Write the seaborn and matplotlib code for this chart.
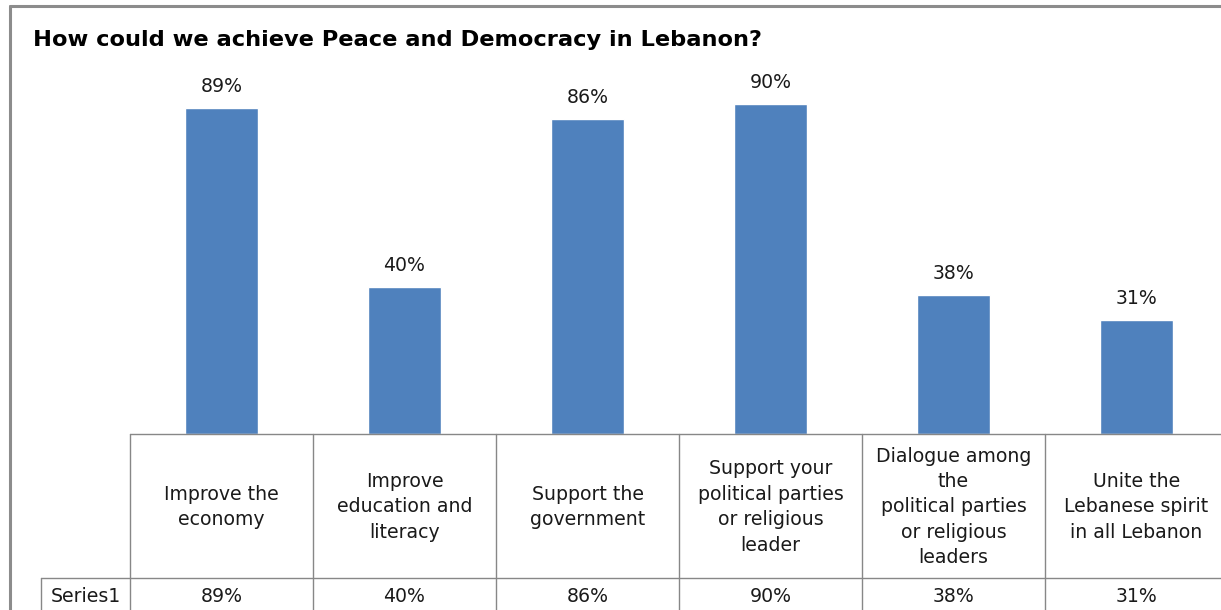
import matplotlib
matplotlib.use("Agg")
import matplotlib.pyplot as plt
from matplotlib.lines import Line2D
import seaborn as sns
import pandas as pd

categories = [
    "Improve the\neconomy",
    "Improve\neducation and\nliteracy",
    "Support the\ngovernment",
    "Support your\npolitical parties\nor religious\nleader",
    "Dialogue among\nthe\npolitical parties\nor religious\nleaders",
    "Unite the\nLebanese spirit\nin all Lebanon",
]
values = [89, 40, 86, 90, 38, 31]
series_name = "Series1"
title = "How could we achieve Peace and Democracy in Lebanon?"

W, H = 1221, 610
BAR = "#4F81BD"
GRID = "#878787"
FRAME = "#8C8C8C"
TXT = "#1a1a1a"
FS = 13.6

sns.set_theme(style="white")
plt.rcParams["font.family"] = ["DejaVu Sans"]

fig = plt.figure(figsize=(W / 100, H / 100), dpi=100)
fig.patch.set_facecolor("white")


def fx(px):
    return px / W


def fy(py):
    return 1 - py / H


# plot area: left edge of table at x=130, baseline at y=434, 100% at y=67
col_w = 183
ax_left, ax_base, ax_top = 130, 434, 67.3
ax = fig.add_axes([fx(ax_left), fy(ax_base), (6 * col_w) / W, (ax_base - ax_top) / H])

df = pd.DataFrame({"cat": categories, "val": values})
sns.barplot(data=df, x="cat", y="val", color=BAR, width=0.4, saturation=1, ax=ax)
ax.set_xlim(-0.5, 5.5)
ax.set_ylim(0, 100)
ax.set_xticks([])
ax.set_yticks([])
ax.set_xlabel("")
ax.set_ylabel("")
for s in ax.spines.values():
    s.set_visible(False)

for i, v in enumerate(values):
    ax.annotate(f"{v}%", (i, v), xytext=(0, 11.5), textcoords="offset points",
                ha="center", va="baseline", fontsize=FS, color=TXT)

# outer chart frame
fig.add_artist(Line2D([fx(10), fx(10)], [fy(6), fy(H + 5)], color=FRAME, lw=2.2))
fig.add_artist(Line2D([fx(10), fx(W + 5)], [fy(6), fy(6)], color=FRAME, lw=2.2))

# data table below the plot
row1_top, row2_top = 434, 578
fig.add_artist(Line2D([fx(ax_left), fx(W + 5)], [fy(row1_top), fy(row1_top)], color=GRID, lw=1))
fig.add_artist(Line2D([fx(41), fx(W + 5)], [fy(row2_top), fy(row2_top)], color=GRID, lw=1))
fig.add_artist(Line2D([fx(41), fx(41)], [fy(row2_top), fy(H + 5)], color=GRID, lw=1))
for i in range(len(categories) + 1):
    x = ax_left + i * col_w
    fig.add_artist(Line2D([fx(x), fx(x)], [fy(row1_top), fy(H + 5)], color=GRID, lw=1))

for i, (c, v) in enumerate(zip(categories, values)):
    cx = ax_left + (i + 0.5) * col_w
    fig.text(fx(cx), fy(507), c, ha="center", va="center", fontsize=FS,
             color=TXT, linespacing=1.43)
    fig.text(fx(cx), fy(597), f"{v}%", ha="center", va="center", fontsize=FS, color=TXT)

fig.text(fx(85.5), fy(597), series_name, ha="center", va="center", fontsize=FS, color=TXT)

fig.text(fx(33), fy(40), title, ha="left", va="center", fontsize=16.2,
         fontweight="bold", color="black")

fig.savefig("out.png", dpi=100, facecolor="white")
